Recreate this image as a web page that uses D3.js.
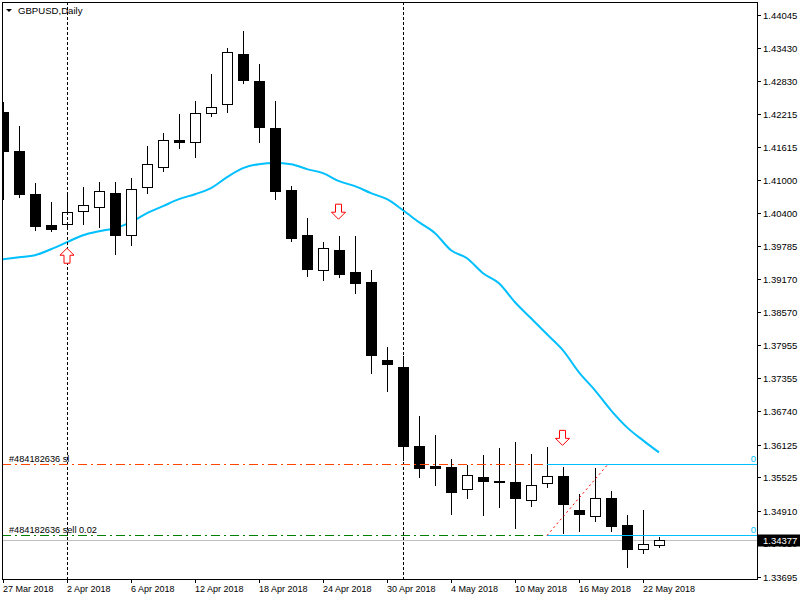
<!DOCTYPE html>
<html><head><meta charset="utf-8">
<script src="https://cdn.jsdelivr.net/npm/d3@7"></script>
<style>body{margin:0;background:#fff}svg{display:block}text{font-family:"Liberation Sans",Arial,sans-serif}</style>
</head><body><svg id="c" width="800" height="600"></svg>
<script>
const symbolTitle = "GBPUSD,Daily";
const dateLabels = ["27 Mar 2018","2 Apr 2018","6 Apr 2018","12 Apr 2018","18 Apr 2018","24 Apr 2018","30 Apr 2018","4 May 2018","10 May 2018","16 May 2018","22 May 2018"];
const priceTicks = [1.44045,1.43430,1.42830,1.42215,1.41615,1.41000,1.40400,1.39785,1.39170,1.38570,1.37955,1.37355,1.36740,1.36125,1.35525,1.34910,1.34310,1.33695];
const open  = [1.42255,1.41536,1.40742,1.40171,1.40189,1.40429,1.40503,1.40761,1.39986,1.40872,1.41241,1.41739,1.41702,1.42237,1.42403,1.43325,1.42827,1.41960,1.40816,1.39986,1.39340,1.39709,1.39303,1.39119,1.37680,1.37551,1.36093,1.35724,1.35706,1.35300,1.35521,1.35447,1.35429,1.35097,1.35410,1.35540,1.34912,1.34802,1.35134,1.34636,1.34193,1.34267];
const high  = [1.42440,1.41997,1.40945,1.40595,1.40761,1.40872,1.40964,1.40964,1.41038,1.41628,1.41868,1.42218,1.42458,1.42956,1.43436,1.43750,1.43141,1.42458,1.40890,1.40300,1.39857,1.39968,1.39968,1.39340,1.37920,1.37754,1.36647,1.36296,1.35853,1.35743,1.35927,1.36056,1.36167,1.35945,1.36075,1.35706,1.35207,1.35687,1.35263,1.34820,1.34912,1.34414];
const low   = [1.40650,1.40687,1.40078,1.40060,1.40097,1.40189,1.40134,1.39635,1.39802,1.40761,1.41167,1.41591,1.41425,1.42182,1.42255,1.42790,1.41702,1.40650,1.39875,1.39230,1.39156,1.39211,1.38916,1.37440,1.37108,1.35835,1.35521,1.35374,1.34838,1.35134,1.34820,1.34968,1.34580,1.34986,1.35337,1.34488,1.34525,1.34709,1.34525,1.33879,1.34119,1.34230];
const close = [1.41536,1.40742,1.40152,1.40097,1.40410,1.40540,1.40798,1.39986,1.40835,1.41296,1.41739,1.41702,1.42237,1.42348,1.43362,1.42846,1.41979,1.40798,1.39931,1.39359,1.39746,1.39266,1.39100,1.37772,1.37606,1.36093,1.35687,1.35687,1.35244,1.35558,1.35447,1.35429,1.35134,1.35374,1.35540,1.35023,1.34838,1.35134,1.34617,1.34211,1.34285,1.34377];
const maValues = [1.39543,1.39580,1.39617,1.39728,1.39857,1.39986,1.40060,1.40115,1.40226,1.40392,1.40521,1.40650,1.40742,1.40853,1.41056,1.41222,1.41296,1.41315,1.41296,1.41204,1.41130,1.40982,1.40890,1.40761,1.40650,1.40447,1.40226,1.40023,1.39709,1.39562,1.39285,1.39100,1.38750,1.38455,1.38159,1.37864,1.37458,1.37126,1.36757,1.36444,1.36204,1.35982];
const separatorBars = [4, 25];
const arrowBars = [4, 21, 35];
const arrowDirs = ["up", "down", "down"];
const arrowPrices = [1.39746, 1.40281, 1.36112];
const orderLabels = ["#484182636 sl", "#484182636 sell 0.02"];
const orderPrices = [1.35762, 1.34451];
const orderColors = ["#FF4500", "#008000"];
const entryBar = 34, exitBar = 37.8;
const lastPrice = 1.34377;

const n = open.length;
const svg = d3.select("#c");
const L = 2, R = 757, T = 2, B = 579;
const x = d3.scaleLinear().domain([0, n - 1]).range([3, 659]);
const y = d3.scaleLinear().domain([1.33695, 1.44045]).range([576.5, 15]);
const px = v => Math.round(x(v));
const py = v => Math.round(y(v));

svg.append("rect").attr("width", 800).attr("height", 600).attr("fill", "#fff");
svg.append("defs").append("clipPath").attr("id", "clip")
  .append("rect").attr("x", L + 1).attr("y", T + 1).attr("width", R - L - 1).attr("height", B - T - 1);
const plot = svg.append("g").attr("clip-path", "url(#clip)");

// moving average
plot.append("path").datum(maValues)
  .attr("d", d3.line().x((d, i) => x(i)).y(d => y(d)).curve(d3.curveMonotoneX))
  .attr("fill", "none").attr("stroke", "#00BFFF").attr("stroke-width", 2);

// current price line
plot.append("line").attr("x1", L).attr("x2", R)
  .attr("y1", py(lastPrice) + 0.5).attr("y2", py(lastPrice) + 0.5)
  .attr("stroke", "#C0C0C0").attr("stroke-width", 1);

// candles
const idx = d3.range(n);
const cg = plot.append("g");
cg.selectAll("line.wick").data(idx).enter().append("line")
  .attr("x1", i => px(i) + 0.5).attr("x2", i => px(i) + 0.5)
  .attr("y1", i => py(high[i])).attr("y2", i => py(low[i]) + 1)
  .attr("stroke", "#000").attr("stroke-width", 1);
cg.selectAll("rect.body").data(idx).enter().append("rect")
  .each(function (i) {
    const top = Math.min(py(open[i]), py(close[i]));
    const bot = Math.max(py(open[i]), py(close[i]));
    const bull = close[i] > open[i];
    const s = d3.select(this);
    if (bull) {
      s.attr("x", px(i) - 4.5).attr("width", 10)
       .attr("y", top + 0.5).attr("height", Math.max(1, bot - top))
       .attr("fill", "#fff").attr("stroke", "#000").attr("stroke-width", 1);
    } else {
      s.attr("x", px(i) - 5).attr("width", 11)
       .attr("y", top).attr("height", Math.max(2, bot - top + 1))
       .attr("fill", "#000");
    }
  });

// period separators
plot.selectAll("line.sep").data(separatorBars).enter().append("line")
  .attr("x1", d => px(d) + 0.5).attr("x2", d => px(d) + 0.5)
  .attr("y1", T).attr("y2", B)
  .attr("stroke", "#000").attr("stroke-dasharray", "3,2");

// order lines
orderPrices.forEach((p, k) => {
  const yy = py(p) + 0.5;
  plot.append("line").attr("x1", L).attr("x2", px(entryBar)).attr("y1", yy).attr("y2", yy)
    .attr("stroke", orderColors[k]).attr("stroke-dasharray", "9,4,2,4");
  plot.append("line").attr("x1", px(entryBar)).attr("x2", R).attr("y1", yy).attr("y2", yy)
    .attr("stroke", "#00BFFF");
  svg.append("text").attr("x", 9).attr("y", yy - 3).attr("font-size", 9.2).attr("fill", "#000").text(orderLabels[k]);
  svg.append("text").attr("x", 756).attr("y", yy - 3).attr("text-anchor", "end")
    .attr("font-size", 9.5).attr("fill", "#00BFFF").text("0");
});
// trade line
plot.append("line")
  .attr("x1", x(entryBar)).attr("y1", y(orderPrices[1]))
  .attr("x2", x(exitBar)).attr("y2", y(orderPrices[0]))
  .attr("stroke", "#FF0000").attr("stroke-dasharray", "2,3");

// arrows
arrowBars.forEach((b, k) => {
  const tx = x(b) - 0.5 + (arrowDirs[k] === "up" ? 0.5 : 0), ty = y(arrowPrices[k]);
  const s = arrowDirs[k] === "up" ? -1 : 1;
  const pts = [[-3, -15], [3, -15], [3, -7], [7, -7], [0, 0], [-7, -7], [-3, -7]]
    .map(([a, c]) => [tx + a, ty + s * c]);
  plot.append("path").attr("d", "M" + pts.map(p => p.join(",")).join("L") + "Z")
    .attr("fill", "#fff").attr("stroke", "#FF0000").attr("stroke-width", 1).attr("stroke-linejoin", "miter");
});

// frame
svg.append("rect").attr("x", L + 0.5).attr("y", T + 0.5).attr("width", R - L).attr("height", B - T)
  .attr("fill", "none").attr("stroke", "#000").attr("stroke-width", 1);

// right axis
const ra = svg.append("g");
priceTicks.forEach(v => {
  const yy = py(v) + 0.5;
  ra.append("line").attr("x1", R).attr("x2", R + 4).attr("y1", yy).attr("y2", yy).attr("stroke", "#000");
  ra.append("text").attr("x", 763).attr("y", yy + 3.5).attr("font-size", 9.5).attr("fill", "#000").text(v.toFixed(5));
});
// bottom axis
dateLabels.forEach((lab, k) => {
  const xx = px(k * 4) + 0.5;
  svg.append("line").attr("x1", xx).attr("x2", xx).attr("y1", B).attr("y2", B + 4).attr("stroke", "#000");
  svg.append("text").attr("x", xx - 0.5).attr("y", 592).attr("font-size", 9).attr("fill", "#000").text(lab);
});

// last price box
const ly = py(lastPrice) + 0.5;
svg.append("rect").attr("x", R).attr("y", ly - 6).attr("width", 43).attr("height", 12).attr("fill", "#000");
svg.append("text").attr("x", 763).attr("y", ly + 3.5).attr("font-size", 9.5).attr("fill", "#fff").text(lastPrice.toFixed(5));

// title
svg.append("path").attr("d", "M6,9L12,9L9,12Z").attr("fill", "#000");
svg.append("text").attr("x", 18).attr("y", 14).attr("font-size", 9.6).attr("fill", "#000").text(symbolTitle);
</script></body></html>
